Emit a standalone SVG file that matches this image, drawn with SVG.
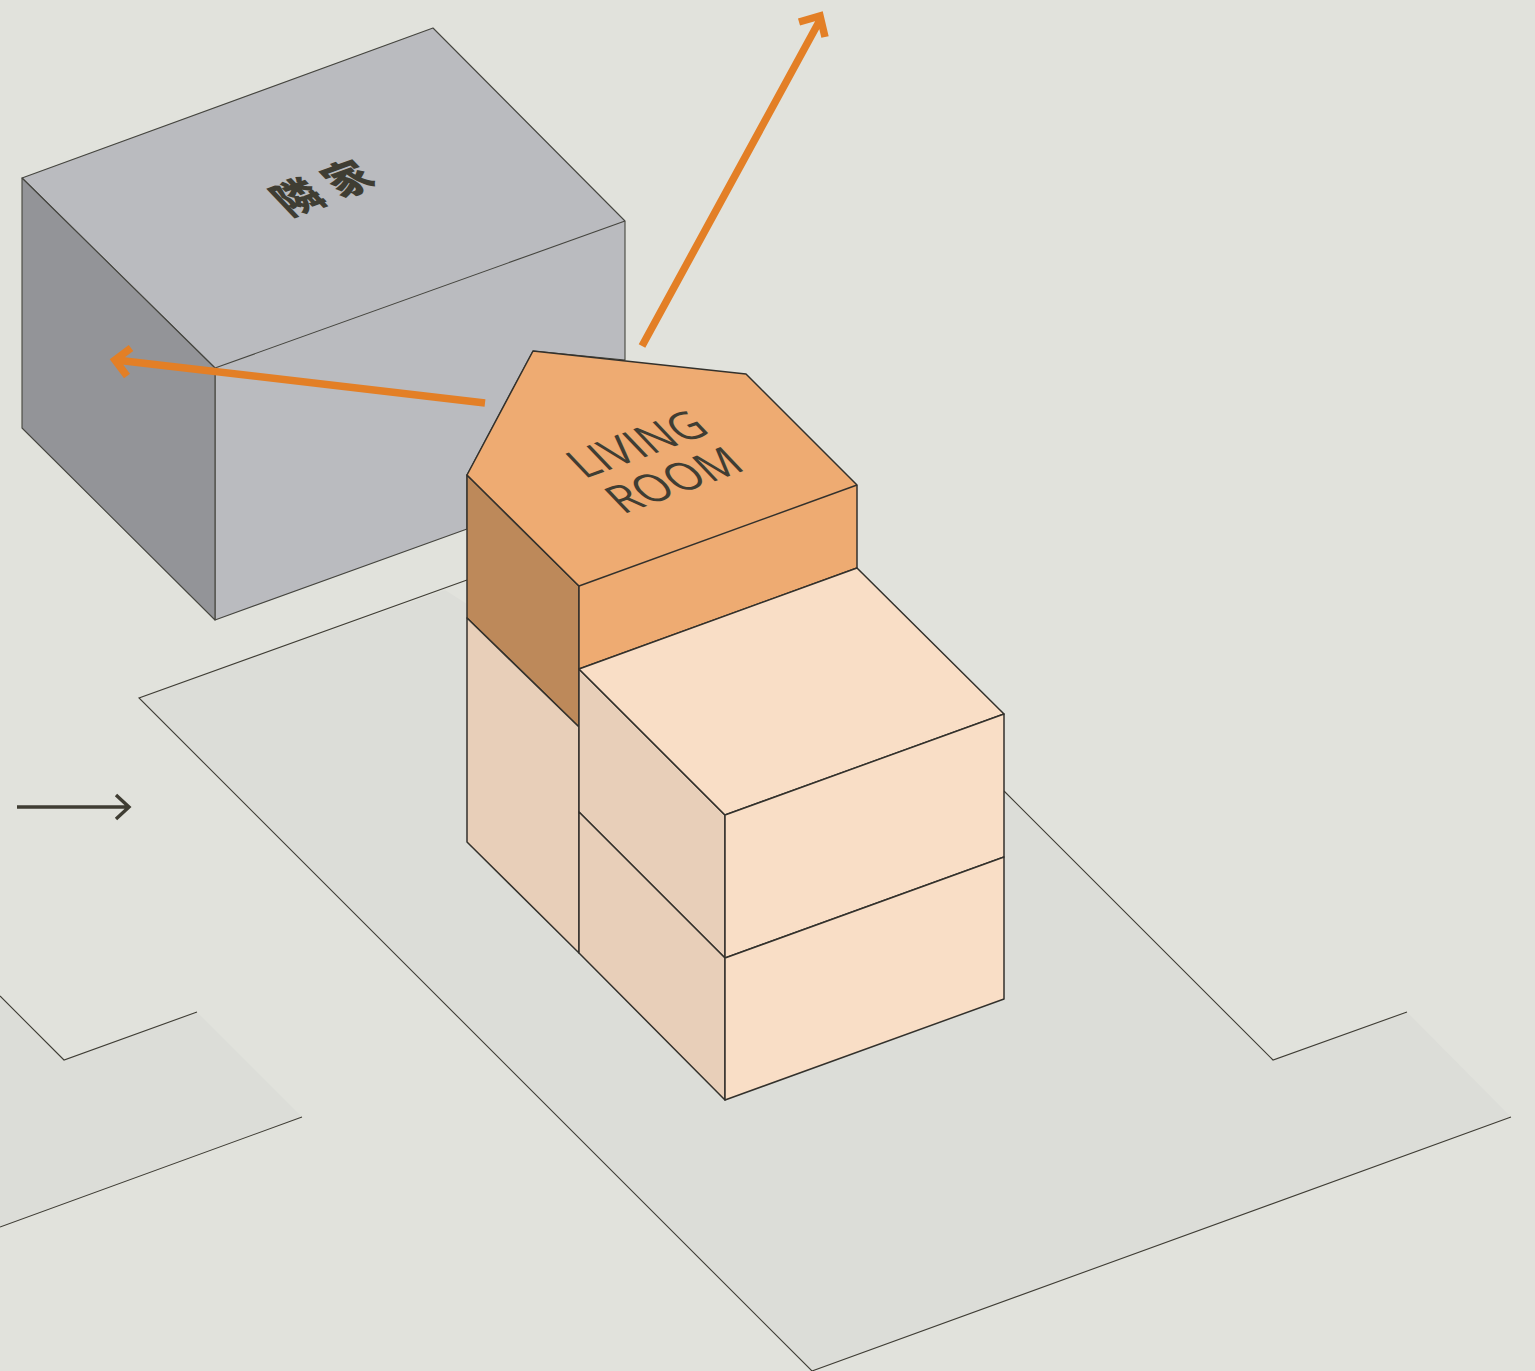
<svg xmlns="http://www.w3.org/2000/svg" width="1535" height="1371" viewBox="0 0 1535 1371">
<style>
.e{stroke:#33312c;stroke-width:1.5;stroke-linejoin:round}
.g{stroke:#45453f;stroke-width:1.1;stroke-linejoin:round}
.t{stroke:#3f3d35;stroke-width:1.1;fill:none}
.top{fill:#f9dec6}.side{fill:#e8cfb9}.or{fill:#eeab72}.dk{fill:#bd895a}
.a{fill:none;stroke:#e37f26;stroke-width:7.5}
.lb{fill:#3f3d33;font-family:"Open Sans","Noto Sans",sans-serif;font-size:43px;font-weight:500;text-anchor:middle}
</style>
<rect width="1535" height="1371" fill="#e1e2dc"/>
<g id="ground">
<path d="M445 590L139 698L812 1371L1511 1117L1407 1012L1273 1060L1004 791L900 700L467 604Z" fill="#dcddd8"/>
<path d="M0 996L64 1060L197 1012L302 1117L0 1227Z" fill="#dcddd8"/>
<path class="t" d="M467 580L139 698L812 1371L1511 1117M1407 1012L1273 1060L1004 791M0 996L64 1060L197 1012M302 1117L0 1227"/>
</g>
<g id="neighbour">
<path class="g" fill="#babbbf" d="M22 178L433 28L625 221V360L533 351L467 475V529L215 620V368Z"/>
<path class="g" fill="#939498" d="M22 178L215 368V620L22 428Z"/>
<path class="g" fill="none" d="M215 368L625 221"/>
<text transform="matrix(.94 -.34 .74 .78 334 200)" font-family="Noto Sans CJK JP,sans-serif" font-weight="900" font-size="42" fill="#3f3d33" text-anchor="middle" letter-spacing="12" x="6">隣家</text>
</g>
<g id="living-room">
<path class="e dk" d="M467 475L579 586V727L467 618Z"/>
<path class="e or" d="M467 475L533 351L746 374L857 485V568L579 669V586Z"/>
<path class="e" fill="none" d="M579 586L857 485"/>
<g class="lb">
<text transform="matrix(.94 -.34 .74 .78 648 456)">LIVING</text>
<text transform="matrix(.94 -.34 .74 .78 685 492)">ROOM</text>
</g>
</g>
<g id="lower-left"><path class="e side" d="M467 618L579 727V953L467 842Z"/></g>
<g id="upper-box">
<path class="e side" d="M579 669L725 815V958L579 812Z"/>
<path class="e top" d="M579 669L857 568L1004 714L725 815Z"/>
<path class="e top" d="M725 815L1004 714V857L725 958Z"/>
</g>
<g id="lower-box">
<path class="e side" d="M579 812L725 958V1100L579 953Z"/>
<path class="e top" d="M725 958L1004 857V999L725 1100Z"/>
</g>
<g id="connectors">
<path class="a" d="M485 403L116 360M131 348L115 360L127 376"/>
<path class="a" d="M642 346L820 20M799 22L820 16L825 37"/>
<path d="M17 807H129M116 795L129 807L116 819" fill="none" stroke="#3f3d33" stroke-width="3.4"/>
</g>
</svg>
